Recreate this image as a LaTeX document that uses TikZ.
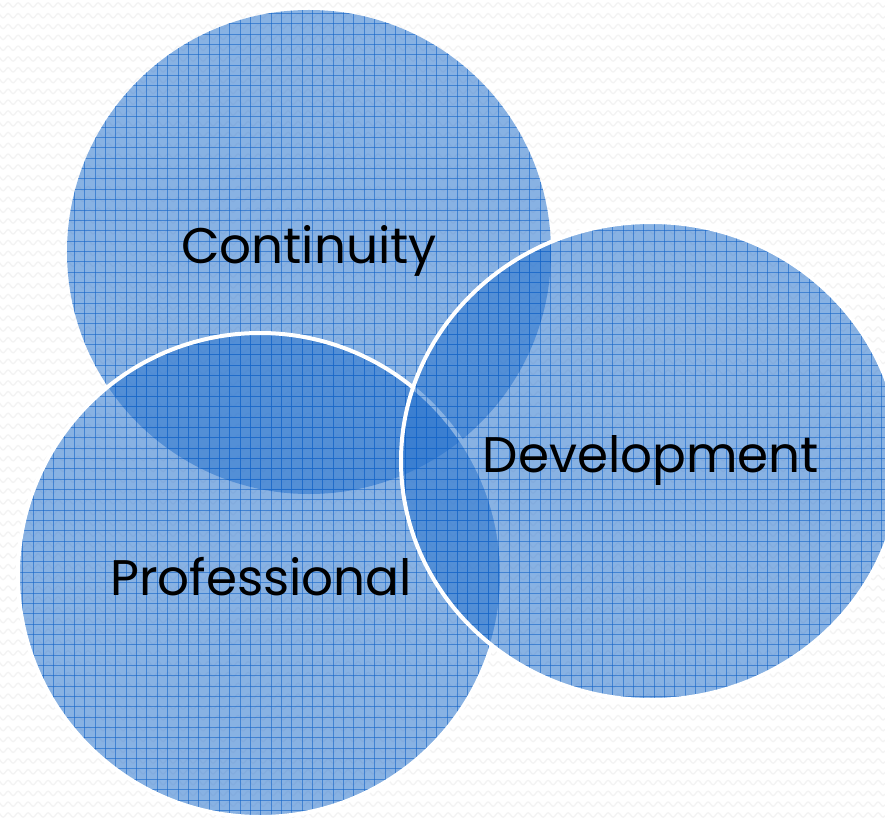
\documentclass[tikz,border=0pt]{standalone}
\usepackage{fontspec}
\setmainfont{Poppins}
\usetikzlibrary{decorations.pathmorphing}
\definecolor{cfill}{RGB}{40,115,205}
\definecolor{cline}{RGB}{20,100,200}
\definecolor{wavec}{RGB}{243,243,243}
\tikzset{
  bubble/.style={cfill, fill opacity=0.55},
  gridline/.style={cline, opacity=0.6, line width=0.9pt},
  rim/.style={white, line width=4pt},
  wavy/.style={wavec, line width=1.3pt, decorate, decoration={snake, segment length=10pt, amplitude=2.2pt}},
  label/.style={text=black, font=\fontsize{50}{60}\selectfont}
}
\newcommand{\gridfill}[2]{%
  \begin{scope}
    \fill[bubble] (#1) ellipse (#2);
    \clip (#1) ellipse (#2);
    \foreach \gx in {2,12.35,...,885} \draw[gridline] (\gx,0) -- (\gx,818);
    \foreach \gy in {3,13.35,...,818} \draw[gridline] (0,\gy) -- (885,\gy);
  \end{scope}}
\begin{document}
\begin{tikzpicture}[x=1pt,y=-1pt]
\useasboundingbox (0,0) rectangle (885,818);
\fill[white] (0,0) rectangle (885,818);
\foreach \wy in {5,15.8,...,818} \draw[wavy] (-5,\wy) -- (890,\wy);
\coordinate (C) at (309,252);
\coordinate (P) at (260,575);
\coordinate (D) at (651,461);
\gridfill{C}{242pt and 242pt}
\gridfill{P}{242pt and 242pt}
\draw[rim] (P) circle (242pt);
\gridfill{D}{250pt and 239pt}
\draw[rim] (D) ellipse (250pt and 239pt);
\node[label] (tc) at (309,251) {Continuity};
\node[label] (tp) at (261,577) {Professional};
\node[label] (td) at (651,460) {Development};
\end{tikzpicture}
\end{document}
